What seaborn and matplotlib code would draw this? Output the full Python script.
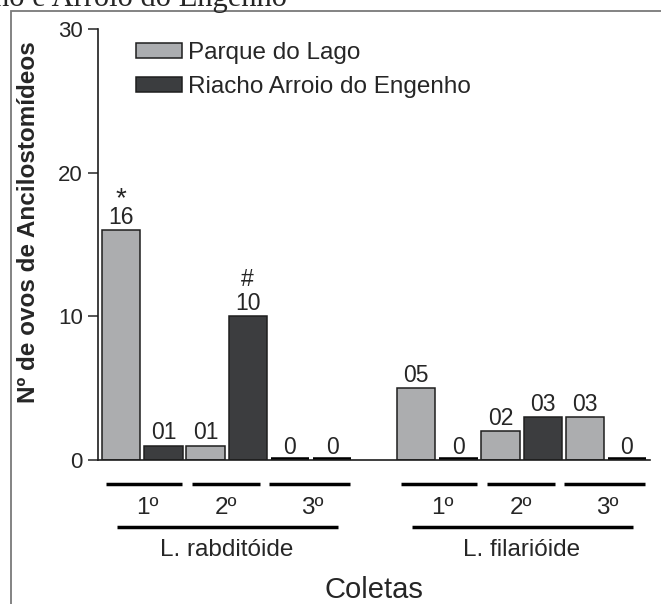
import numpy as np
import pandas as pd
import matplotlib
matplotlib.use("Agg")
import matplotlib.pyplot as plt
from matplotlib.patches import Rectangle
import seaborn as sns

# data
grupos = ["L. rabditóide", "L. filarióide"]
coletas = ["1º", "2º", "3º"]
locais = ["Parque do Lago", "Riacho Arroio do Engenho"]
parque = [[16, 1, 0], [5, 2, 3]]   # per grupo, per coleta
riacho = [[1, 10, 0], [0, 3, 0]]
marcas_parque = [["*", "", ""], ["", "", ""]]
marcas_riacho = [["", "#", ""], ["", "", ""]]

rows = []
for g in range(len(grupos)):
    for c in range(len(coletas)):
        for s, (vals, marks) in enumerate([(parque, marcas_parque), (riacho, marcas_riacho)]):
            rows.append({"grupo": grupos[g], "coleta": coletas[c], "local": locais[s],
                         "ovos": vals[g][c], "marca": marks[g][c],
                         "pos": g * 7 + c * 2 + s})
df = pd.DataFrame(rows)

light = "#abadb0"
dark = "#3b3d3f"
W, H = 661, 604

sns.set_style("white")
plt.rcParams["font.family"] = ["Liberation Sans", "DejaVu Sans"]

fig = plt.figure(figsize=(W / 100, H / 100), dpi=100)
ax = fig.add_axes([98 / W, (H - 460) / H, (650 - 98) / W, (460 - 29) / H])

sns.barplot(data=df, x="pos", y="ovos", hue="local", hue_order=locais,
            palette=[light, dark], native_scale=True, dodge=False, width=0.91,
            errorbar=None, edgecolor="#1e1e1e", linewidth=1.1, legend=False, ax=ax)

for p in ax.patches:
    if p.get_height() == 0:
        p.set_edgecolor("black")
        p.set_linewidth(4)

ax.set_xlim(-0.553, 12.546)
ax.set_ylim(0, 30)
ax.set_yticks([0, 10, 20, 30])
ax.set_xticks([])
ax.set_xlabel("")
ax.set_ylabel("")
ax.tick_params(axis="y", labelsize=16, length=7, width=1.1, direction="out", left=True, pad=4)
for sp in ["top", "right"]:
    ax.spines[sp].set_visible(False)
for sp in ["left", "bottom"]:
    ax.spines[sp].set_color("#1e1e1e")
    ax.spines[sp].set_linewidth(1.2)

# value labels and significance marks
for _, r in df.iterrows():
    txt = "0" if r.ovos == 0 else f"{r.ovos:02d}"
    ax.annotate(txt, (r.pos, r.ovos), xytext=(0, 4.5), textcoords="offset points",
                ha="center", va="baseline", fontsize=16.5)
    if r.marca == "*":
        ax.annotate(r.marca, (r.pos, r.ovos), xytext=(0, 17.5), textcoords="offset points",
                    ha="center", va="baseline", fontsize=20)
    elif r.marca:
        ax.annotate(r.marca, (r.pos, r.ovos), xytext=(0, 21.5), textcoords="offset points",
                    ha="center", va="baseline", fontsize=16.5)

# brackets under the axis
tr = ax.get_xaxis_transform()
y_row1, y_lab1, y_row2, y_lab2 = -0.0557, -0.111, -0.155, -0.209
spans = [(-0.36, 1.44), (1.68, 3.30), (3.50, 5.42)]
lab_x = [0.61, 2.48, 4.54]
for g in range(len(grupos)):
    off = g * 7
    for c in range(len(coletas)):
        a, b = spans[c]
        ax.plot([a + off, b + off], [y_row1, y_row1], color="black", lw=2.5,
                transform=tr, clip_on=False, solid_capstyle="butt")
        ax.text(lab_x[c] + off, y_lab1, coletas[c], transform=tr, ha="center",
                va="center", fontsize=17.5)
    ax.plot([-0.1 + off, 5.15 + off], [y_row2, y_row2], color="black", lw=2.5,
            transform=tr, clip_on=False, solid_capstyle="butt")
    ax.text(2.5 + off, y_lab2, grupos[g], transform=tr, ha="center", va="center",
            fontsize=17.5)

ax.text(0.5, -0.302, "Coletas", transform=ax.transAxes, ha="center", va="center",
        fontsize=21)
fig.text(29 / W, 1 - 222 / H, "Nº de ovos de Ancilostomídeos", rotation=90,
         ha="center", va="center", fontsize=17.5, fontweight="bold")

# legend
handles = [Rectangle((0, 0), 1, 1, facecolor=light, edgecolor="#1e1e1e", lw=1.1),
           Rectangle((0, 0), 1, 1, facecolor=dark, edgecolor="#1e1e1e", lw=1.1)]
ax.legend(handles, locais, loc="upper left", bbox_to_anchor=(136 / W, 1 - 42 / H),
          bbox_transform=fig.transFigure, frameon=False, fontsize=17.5,
          handlelength=1.9, handleheight=0.6, handletextpad=0.22,
          labelspacing=0.5, borderpad=0, borderaxespad=0)

# page frame and clipped caption above
fig.add_artist(Rectangle((11 / W, -0.1), 2, 1 - 11 / H + 0.1, transform=fig.transFigure,
                         fill=False, edgecolor="#7a7a7a", lw=1.3))
fig.text(287 / W, 1 - 6 / H, "ho e Arroio do Engenho", ha="right", va="baseline",
         fontsize=22, family=["Liberation Serif", "DejaVu Serif"])

fig.savefig("out.png", dpi=100)
